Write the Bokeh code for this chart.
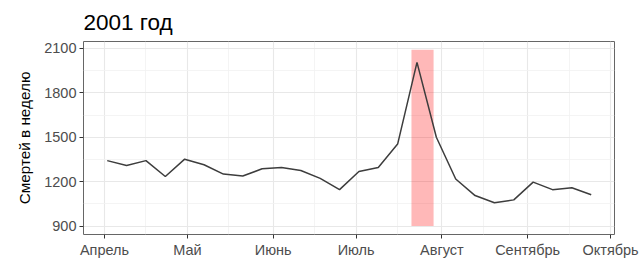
import pandas as pd
from bokeh.plotting import figure
from bokeh.models import Range1d, FixedTicker
from bokeh.embed import file_html
from bokeh.resources import INLINE

# ---- data ----
start_date = "2001-04-02"
deaths = [1342, 1309, 1342, 1235, 1352, 1314, 1251, 1238, 1287, 1296,
          1275, 1222, 1146, 1269, 1296, 1454, 2006, 1500, 1218, 1106,
          1057, 1077, 1197, 1146, 1159, 1112]
heat_start = "2001-07-21"
heat_end = "2001-07-29"
heat_low, heat_high = 900, 2092
month_dates = ["2001-04-01", "2001-05-01", "2001-06-01", "2001-07-01",
               "2001-08-01", "2001-09-01", "2001-10-01"]
month_labels = ["Апрель", "Май", "Июнь", "Июль", "Август", "Сентябрь", "Октябрь"]
minor_dates = ["2001-04-16", "2001-05-16", "2001-06-16", "2001-07-16",
               "2001-08-16", "2001-09-16"]
y_ticks = [900, 1200, 1500, 1800, 2100]
y_minor = [1050, 1350, 1650, 1950]

dates = pd.date_range(start_date, periods=len(deaths), freq="7D")

def ms(d):
    return int(pd.Timestamp(d).value // 10**6)

FONT = "Liberation Sans"

p = figure(width=641, height=260, output_backend="svg", toolbar_location=None,
           x_axis_type="datetime",
           x_range=Range1d(ms("2001-03-24 10:00"), ms("2001-10-02 10:00")),
           y_range=Range1d(843, 2147),
           min_border_left=83, min_border_right=27, min_border_top=41,
           min_border_bottom=25)

p.title.text = "2001 год"
p.title.text_font = FONT
p.title.text_font_size = "22.5px"
p.title.text_font_style = "normal"
p.title.text_color = "#000000"
p.title.offset = 0
p.title.standoff = 13

p.quad(left=[pd.Timestamp(heat_start)], right=[pd.Timestamp(heat_end)],
       bottom=[heat_low], top=[heat_high],
       fill_color="#ff0000", fill_alpha=0.28, line_color=None)
p.line(dates, deaths, line_color="#3d3d3d", line_width=1.5)

# x axis
p.xaxis.ticker = FixedTicker(ticks=[ms(d) for d in month_dates],
                             minor_ticks=[ms(d) for d in minor_dates])
p.xaxis.major_label_overrides = {ms(d): lab for d, lab in zip(month_dates, month_labels)}
p.yaxis.ticker = FixedTicker(ticks=y_ticks, minor_ticks=y_minor)

for ax in (p.xaxis, p.yaxis):
    ax.axis_line_color = None
    ax.major_tick_line_color = "#333333"
    ax.major_tick_in = 0
    ax.major_tick_out = 4
    ax.minor_tick_line_color = None
    ax.major_label_text_font = FONT
    ax.major_label_text_font_size = "14.5px"
    ax.major_label_text_color = "#4d4d4d"
    ax.major_label_standoff = 3

p.yaxis.axis_label = "Смертей в неделю"
p.yaxis.axis_label_text_font = FONT
p.yaxis.axis_label_text_font_size = "15.3px"
p.yaxis.axis_label_text_font_style = "normal"
p.yaxis.axis_label_text_color = "#000000"
p.yaxis.axis_label_standoff = 8

for g in (p.xgrid, p.ygrid):
    g.grid_line_color = "#e8e8e8"
    g.grid_line_width = 1.1
    g.minor_grid_line_color = "#f1f1f1"
    g.minor_grid_line_width = 0.8

p.outline_line_color = "#666666"
p.outline_line_width = 1
p.background_fill_color = "white"
p.border_fill_color = "white"

open("out.html", "w").write(file_html(p, INLINE))
